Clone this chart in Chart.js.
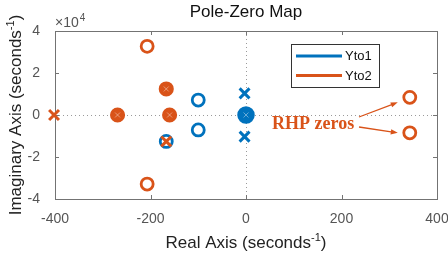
<!DOCTYPE html>
<html>
<head>
<meta charset="utf-8">
<script src="https://cdn.jsdelivr.net/npm/chart.js@4.4.1/dist/chart.umd.min.js"></script>
<style>
  html, body { margin: 0; padding: 0; background: #fff; }
  #wrap { width: 448px; height: 259px; }
</style>
</head>
<body>
<div id="wrap"><canvas id="pzmap" width="448" height="259"></canvas></div>
<script>
// pole / zero locations, real and imaginary parts in seconds^-1
const seriesNames = ["Yto1", "Yto2"];
const yto1ZeroRe = [-100, -100, -167];
const yto1ZeroIm = [7100, -7100, -12600];
const yto1PoleRe = [-3, -3];
const yto1PoleIm = [10300, -10300];
const yto1StackRe = [0];        // several poles/zeros on top of each other
const yto1StackIm = [0];
const yto2ZeroRe = [-207, -207, 343, 343];
const yto2ZeroIm = [32700, -32900, 8400, -8500];
const yto2PoleRe = [-402, -167];
const yto2PoleIm = [0, -12600];
const yto2StackRe = [-269, -160, -167];
const yto2StackIm = [0, 0, 12400];
const rhpRe = [343, 343];
const rhpIm = [8400, -8500];
const xTicks = [-400, -200, 0, 200, 400];
const yTicks = [-40000, -20000, 0, 20000, 40000];
const titleText = "Pole-Zero Map";
const annotationText = "RHP zeros";

const BLUE = "#0072BD";
const ORANGE = "#D95319";
const AXIS = "#737373";
const LABEL = "#555555";
const FONT = "'Liberation Sans', Arial, sans-serif";

function pts(re, im) {
    return re.map((r, i) => ({x: r, y: im[i]}));
}

function textWithSup(ctx, base, sup, tail, x, y, size) {
    // draws base + superscript + tail, centred on x
    ctx.font = size + "px " + FONT;
    let w1 = ctx.measureText(base).width;
    let w3 = ctx.measureText(tail).width;
    ctx.font = Math.round(size * 0.65) + "px " + FONT;
    let w2 = ctx.measureText(sup).width;
    let x0 = x - (w1 + w2 + w3) / 2;
    ctx.textAlign = "left";
    ctx.textBaseline = "alphabetic";
    ctx.font = size + "px " + FONT;
    ctx.fillText(base, x0, y);
    ctx.fillText(tail, x0 + w1 + w2, y);
    ctx.font = Math.round(size * 0.65) + "px " + FONT;
    ctx.fillText(sup, x0 + w1, y - size * 0.42);
}

function arrow(ctx, x1, y1, x2, y2) {
    let a = Math.atan2(y2 - y1, x2 - x1);
    ctx.beginPath();
    ctx.moveTo(x1, y1);
    ctx.lineTo(x2 - 5 * Math.cos(a), y2 - 5 * Math.sin(a));
    ctx.stroke();
    ctx.beginPath();
    ctx.moveTo(x2, y2);
    ctx.lineTo(x2 - 7 * Math.cos(a) + 2.6 * Math.sin(a), y2 - 7 * Math.sin(a) - 2.6 * Math.cos(a));
    ctx.lineTo(x2 - 7 * Math.cos(a) - 2.6 * Math.sin(a), y2 - 7 * Math.sin(a) + 2.6 * Math.cos(a));
    ctx.closePath();
    ctx.fill();
}

// Box, inward ticks and the dotted zero lines
const frame = {
    id: "frame",
    beforeDatasetsDraw(chart) {
        const ctx = chart.ctx;
        const a = chart.chartArea;
        const xs = chart.scales.x, ys = chart.scales.y;
        ctx.save();
        ctx.strokeStyle = "#9a9a9a";
        ctx.lineWidth = 1;
        ctx.setLineDash([1, 3]);
        let x0 = Math.round(xs.getPixelForValue(0)) + 0.5;
        let y0 = Math.round(ys.getPixelForValue(0)) + 0.5;
        ctx.beginPath();
        ctx.moveTo(x0, a.top); ctx.lineTo(x0, a.bottom);
        ctx.moveTo(a.left, y0); ctx.lineTo(a.right, y0);
        ctx.stroke();
        ctx.setLineDash([]);
        ctx.strokeStyle = AXIS;
        ctx.beginPath();
        xTicks.forEach(v => {
            let p = Math.round(xs.getPixelForValue(v)) + 0.5;
            ctx.moveTo(p, a.bottom); ctx.lineTo(p, a.bottom - 4);
            ctx.moveTo(p, a.top); ctx.lineTo(p, a.top + 4);
        });
        yTicks.forEach(v => {
            let p = Math.round(ys.getPixelForValue(v)) + 0.5;
            ctx.moveTo(a.left, p); ctx.lineTo(a.left + 4, p);
            ctx.moveTo(a.right, p); ctx.lineTo(a.right - 4, p);
        });
        ctx.stroke();
        ctx.strokeRect(Math.round(a.left) + 0.5, Math.round(a.top) + 0.5,
            Math.round(a.right - a.left), Math.round(a.bottom - a.top));
        ctx.restore();
    },
    afterDatasetsDraw(chart) {
        const ctx = chart.ctx;
        const a = chart.chartArea;
        const xs = chart.scales.x, ys = chart.scales.y;
        const cx = (a.left + a.right) / 2;
        ctx.save();

        // title
        ctx.fillStyle = "#111";
        ctx.font = "17px " + FONT;
        ctx.textAlign = "center";
        ctx.textBaseline = "alphabetic";
        ctx.fillText(titleText, cx, 17);

        // exponent label
        ctx.fillStyle = LABEL;
        ctx.textAlign = "left";
        ctx.font = "14px " + FONT;
        ctx.fillText("\u00d710", a.left, 27);
        let w = ctx.measureText("\u00d710").width;
        ctx.font = "10px " + FONT;
        ctx.fillText("4", a.left + w + 1, 21);

        // axis labels
        ctx.fillStyle = "#222";
        textWithSup(ctx, "Real Axis (seconds", "-1", ")", cx, 248, 17);
        ctx.save();
        ctx.translate(21, (a.top + a.bottom) / 2);
        ctx.rotate(-Math.PI / 2);
        textWithSup(ctx, "Imaginary Axis (seconds", "-1", ")", 0, 0, 17);
        ctx.restore();

        // legend
        ctx.fillStyle = "#fff";
        ctx.fillRect(291, 44, 88, 43);
        ctx.strokeStyle = "#333";
        ctx.lineWidth = 1;
        ctx.strokeRect(291.5, 44.5, 88, 43);
        [BLUE, ORANGE].forEach((c, i) => {
            let y = 56 + i * 19.5;
            ctx.strokeStyle = c;
            ctx.lineWidth = 3;
            ctx.beginPath();
            ctx.moveTo(296, y); ctx.lineTo(342, y);
            ctx.stroke();
            ctx.fillStyle = "#111";
            ctx.font = "13px " + FONT;
            ctx.textBaseline = "middle";
            ctx.fillText(seriesNames[i], 345, y + 0.5);
        });

        // annotation
        ctx.fillStyle = ORANGE;
        ctx.strokeStyle = ORANGE;
        ctx.font = "bold 18px 'Liberation Serif', 'Times New Roman', serif";
        ctx.textBaseline = "alphabetic";
        ctx.fillText(annotationText, 272, 128.5);
        ctx.lineWidth = 1.3;
        let px0 = xs.getPixelForValue(rhpRe[0]), py0 = ys.getPixelForValue(rhpIm[0]);
        let px1 = xs.getPixelForValue(rhpRe[1]), py1 = ys.getPixelForValue(rhpIm[1]);
        arrow(ctx, 359, 117, px0 - 12, py0 + 5);
        arrow(ctx, 359, 127, px1 - 12, py1);
        ctx.restore();
    }
};

const ticksFont = {family: FONT, size: 14};

new Chart(document.getElementById("pzmap"), {
    type: "scatter",
    data: {
        datasets: [
            {label: "Yto2 poles", data: pts(yto2PoleRe, yto2PoleIm), order: 0,
             pointStyle: "crossRot", radius: 7, borderWidth: 3, borderColor: ORANGE, backgroundColor: ORANGE},
            {label: "Yto1 poles", data: pts(yto1PoleRe, yto1PoleIm), order: 1,
             pointStyle: "crossRot", radius: 7, borderWidth: 3, borderColor: BLUE, backgroundColor: BLUE},
            {label: "dots", data: pts(yto1StackRe.concat(yto2StackRe), yto1StackIm.concat(yto2StackIm)), order: 2,
             pointStyle: "crossRot", radius: 3.5, borderWidth: 1, borderColor: "rgba(255,255,255,0.4)", backgroundColor: "transparent"},
            {label: "Yto1 zeros", data: pts(yto1ZeroRe, yto1ZeroIm), order: 3,
             pointStyle: "circle", radius: 6, borderWidth: 2.8, borderColor: BLUE, backgroundColor: "transparent"},
            {label: "Yto2 zeros", data: pts(yto2ZeroRe, yto2ZeroIm), order: 4,
             pointStyle: "circle", radius: 6, borderWidth: 2.8, borderColor: ORANGE, backgroundColor: "transparent"},
            {label: "Yto1 stack", data: pts(yto1StackRe, yto1StackIm), order: 5,
             pointStyle: "circle", radius: 7.5, borderWidth: 2.5, borderColor: BLUE, backgroundColor: BLUE},
            {label: "Yto2 stack", data: pts(yto2StackRe, yto2StackIm), order: 6,
             pointStyle: "circle", radius: 6.3, borderWidth: 2.5, borderColor: ORANGE, backgroundColor: ORANGE}
        ]
    },
    options: {
        responsive: false,
        animation: false,
        events: [],
        clip: false,
        layout: {padding: {top: 31, right: 11, left: 0, bottom: 0}},
        plugins: {legend: {display: false}, tooltip: {enabled: false}, title: {display: false}},
        scales: {
            x: {
                type: "linear", min: -400, max: 400,
                afterBuildTicks: s => { s.ticks = xTicks.map(v => ({value: v})); },
                afterFit: s => { s.height = 60; s.paddingLeft = 0; s.paddingRight = 0; },
                grid: {display: false}, border: {display: false},
                ticks: {font: ticksFont, color: LABEL, padding: 4, maxRotation: 0}
            },
            y: {
                type: "linear", min: -40000, max: 40000,
                afterBuildTicks: s => { s.ticks = yTicks.map(v => ({value: v})); },
                afterFit: s => { s.width = 55; s.paddingTop = 0; s.paddingBottom = 0; },
                grid: {display: false}, border: {display: false},
                ticks: {font: ticksFont, color: LABEL, padding: 7, callback: v => v / 10000}
            }
        }
    },
    plugins: [frame]
});
</script>
</body>
</html>
